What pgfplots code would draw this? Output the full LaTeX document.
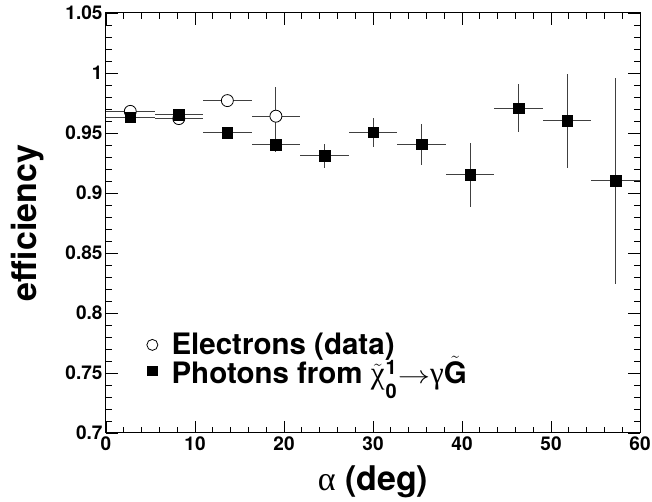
\documentclass[border=0pt]{standalone}
\usepackage{fontspec}
\setmainfont{TeX Gyre Heros}
\newfontfamily\grk{Liberation Serif}
\usepackage{graphicx}
\usepackage{pgfplots}
\pgfplotsset{compat=1.18}
\begin{document}
\begin{tikzpicture}
\begin{axis}[
  at={(0,0)}, anchor=south west,
  width=534pt, height=420pt, scale only axis,
  xmin=0, xmax=60, ymin=0.7, ymax=1.05,
  xtick={0,10,20,30,40,50,60},
  ytick={0.7,0.75,0.8,0.85,0.9,0.95,1,1.05},
  yticklabels={0.7,0.75,0.8,0.85,0.9,0.95,1,1.05},
  minor x tick num=4, minor y tick num=4,
  tick align=inside,
  xtick pos=both, ytick pos=both,
  xticklabel pos=left, yticklabel pos=left,
  major tick length=12pt, minor tick length=6pt,
  tick style={black, line width=0.8pt},
  axis line style={black, line width=1pt},
  /pgf/number format/assume math mode=true,
  ticklabel style={font=\bfseries\fontsize{19}{20}\selectfont},
  xlabel={{\grk α} \textbf{(deg)}},
  ylabel={\textbf{efficiency}},
  xlabel style={at={(axis description cs:0.5,-0.136)}, anchor=base, font=\fontsize{34}{40}\selectfont},
  ylabel style={at={(axis description cs:-0.146,0.5)}, anchor=center, font=\fontsize{34}{40}\selectfont},
  legend image code/.code={\draw[#1] plot coordinates {(6pt,0pt)}; \path (0pt,0pt) (24pt,0pt);},
  legend style={at={(axis cs:4.49,0.784)}, anchor=north west, draw=none, fill=none,
    font=\bfseries\fontsize{29.5}{31}\selectfont, row sep=-2pt, inner sep=0pt,
    nodes={inner sep=1pt}},
  legend cell align=left,
  clip=false,
]
\addplot[forget plot, only marks, mark=*, mark size=6pt, mark options={fill=white, draw=black, line width=0.8pt},
  error bars/.cd, x dir=both, x explicit, y dir=both, y explicit,
  error bar style={line width=1pt, black!75}, error mark=none]
  table[x=x, y=y, x error=ex, y error=ey] {
x y ex ey
2.727 0.968 2.727 0.002
8.182 0.962 2.727 0.002
13.636 0.977 2.727 0.003
19.091 0.964 2.727 0.024
};
\addplot[forget plot, only marks, mark=square*, mark size=5.3pt, mark options={fill=black, draw=black},
  error bars/.cd, x dir=both, x explicit, y dir=both, y explicit,
  error bar style={line width=1pt, black!75}, error mark=none]
  table[x=x, y=y, x error=ex, y error=ey] {
x y ex ey
2.727 0.963 2.727 0.002
8.182 0.965 2.727 0.002
13.636 0.950 2.727 0.003
19.091 0.940 2.727 0.006
24.545 0.931 2.727 0.010
30.000 0.9505 2.727 0.012
35.455 0.9405 2.727 0.017
40.909 0.915 2.727 0.027
46.364 0.9705 2.727 0.020
51.818 0.960 2.727 0.039
57.273 0.910 2.727 0.086
};
\addlegendimage{only marks, mark=*, mark size=5.5pt, mark options={fill=white, draw=black, line width=0.8pt}}
\addlegendentry{Electrons (data)}
\addlegendimage{only marks, mark=square*, mark size=4.75pt, mark options={fill=black, draw=black}}
\addlegendentry{Photons from $\tilde{\mbox{\grk\mdseries\fontsize{31}{31}\selectfont χ}}$\hspace{1pt}\rlap{\raisebox{9pt}{\fontsize{20}{20}\selectfont\bfseries 1}}\raisebox{-15pt}{\fontsize{20}{20}\selectfont\bfseries 0}\hspace{1pt}\scalebox{1.3}[1]{$\rightarrow$}{\grk\mdseries\fontsize{31}{31}\selectfont γ}$\tilde{\mbox{\bfseries G}}$}
\end{axis}
\pgfresetboundingbox
\path[use as bounding box] (-106pt,-69pt) rectangle (546pt,433pt);
\end{tikzpicture}
\end{document}
